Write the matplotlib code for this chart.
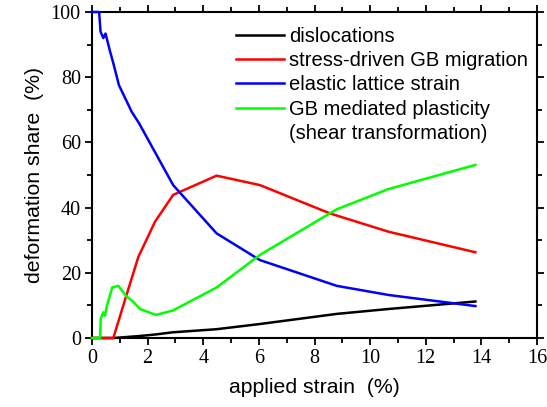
import matplotlib
matplotlib.use("Agg")
import matplotlib.pyplot as plt
from matplotlib.lines import Line2D
from matplotlib.ticker import MultipleLocator

# values
disl_x = [0, 0.77, 1.7, 2.3, 2.9, 4.48, 6.04, 8.8, 10.66, 13.78]
disl_y = [0, 0, 0.6, 1.1, 1.75, 2.7, 4.3, 7.4, 8.9, 11.2]

gbm_x = [0, 0.77, 1.2, 1.67, 2.27, 2.92, 4.48, 6.04, 8.56, 10.66, 13.78]
gbm_y = [0, 0, 12, 24.9, 35.7, 43.9, 49.8, 46.9, 38.2, 32.6, 26.3]

elas_x = [0, 0.26, 0.31, 0.41, 0.49, 0.65, 0.77, 0.97, 1.43, 1.70, 2.92,
          4.48, 6.04, 8.8, 10.66, 13.78]
elas_y = [100, 100, 94, 92, 93.4, 88, 84.3, 77.6, 69.4, 65.8, 46.9,
          32.1, 23.9, 16.0, 13.2, 9.8]

plast_x = [0, 0.29, 0.32, 0.41, 0.47, 0.53, 0.73, 0.95, 1.25, 1.49, 1.73,
           2.30, 2.9, 4.48, 6.04, 8.8, 10.66, 13.78]
plast_y = [0, 0, 6, 7.9, 6.8, 9.6, 15.5, 16.0, 12.7, 11.1, 8.9,
           7.1, 8.4, 15.5, 25.5, 39.5, 45.7, 53.1]

labels = ["dislocations", "stress-driven GB migration",
          "elastic lattice strain", "GB mediated plasticity",
          "(shear transformation)"]

fig = plt.figure(figsize=(5.47, 4.07), dpi=100)
ax = fig.add_axes([0.168, 0.1695, 0.814, 0.801])

lw = 1.8
ax.plot(disl_x, disl_y, color="black", lw=lw, clip_on=False, zorder=3)
ax.plot(gbm_x, gbm_y, color="#ff0000", lw=lw, clip_on=False, zorder=3)
ax.plot(elas_x, elas_y, color="#0000ff", lw=lw, clip_on=False, zorder=3)
ax.plot(plast_x, plast_y, color="#00ff00", lw=lw, clip_on=False, zorder=3)

ax.set_xlim(0, 16)
ax.set_ylim(0, 100)
ax.xaxis.set_major_locator(MultipleLocator(2))
ax.xaxis.set_minor_locator(MultipleLocator(1))
ax.yaxis.set_major_locator(MultipleLocator(20))
ax.yaxis.set_minor_locator(MultipleLocator(10))
ax.tick_params(which="both", direction="out", top=True, right=True,
               labeltop=False, labelright=False, width=1.3)
ax.tick_params(which="major", length=5, pad=3)
ax.tick_params(which="minor", length=3.5)
for s in ax.spines.values():
    s.set_linewidth(1.5)

for lab in ax.get_xticklabels() + ax.get_yticklabels():
    lab.set_family("Liberation Serif")
    lab.set_fontsize(14.5)

ax.set_xlabel("applied strain  (%)", family="Liberation Sans", fontsize=15.3,
              labelpad=7)
ax.set_ylabel("deformation share  (%)", family="Liberation Sans", fontsize=15.3,
              labelpad=5)

handles = [Line2D([], [], color=c, lw=lw)
           for c in ["black", "#ff0000", "#0000ff", "#00ff00"]]
handles.append(Line2D([], [], color="none", lw=0))
leg = ax.legend(handles, labels, loc="upper right", frameon=False,
                prop={"family": "Liberation Sans", "size": 14.5},
                handlelength=2.4, handletextpad=0.25, labelspacing=0.27,
                borderaxespad=0.0, bbox_to_anchor=(0.997, 0.98))

fig.savefig("out.png", dpi=100)
